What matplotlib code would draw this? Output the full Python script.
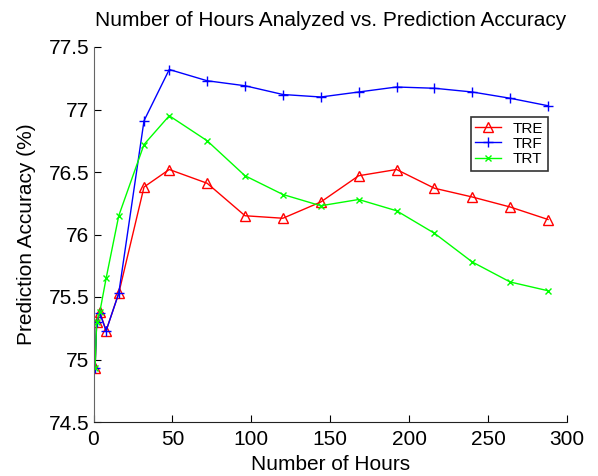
import numpy as np
import matplotlib
matplotlib.use("Agg")
import matplotlib.pyplot as plt

plt.rcParams['font.family'] = ['Liberation Sans', 'DejaVu Sans']

# hours analyzed
hours = [1, 2, 4, 8, 16, 32, 48, 72, 96, 120, 144, 168, 192, 216, 240, 264, 288]

# prediction accuracy (%)
tre = [74.93, 75.30, 75.38, 75.23, 75.53, 76.38, 76.52, 76.41, 76.15, 76.13,
       76.26, 76.47, 76.52, 76.37, 76.30, 76.22, 76.12]
trf = [74.93, 75.30, 75.37, 75.23, 75.53, 76.91, 77.32, 77.23, 77.19, 77.12,
       77.10, 77.14, 77.18, 77.17, 77.14, 77.09, 77.03]
trt = [74.93, 75.30, 75.38, 75.65, 76.15, 76.72, 76.95, 76.75, 76.47, 76.32,
       76.23, 76.28, 76.19, 76.01, 75.78, 75.62, 75.55]

xticks = [0, 50, 100, 150, 200, 250, 300]
yticks = [74.5, 75, 75.5, 76, 76.5, 77, 77.5]
ytick_labels = ['74.5', '75', '75.5', '76', '76.5', '77', '77.5']

fig = plt.figure(figsize=(5.98, 4.76), dpi=100)
ax = fig.add_axes([93.5 / 598, 1 - 422 / 476, (567 - 93.5) / 598, (422 - 47) / 476])

ax.plot(hours, tre, color='#ff0000', marker='^', markersize=7, markerfacecolor='none',
        markeredgewidth=1, linewidth=1, label='TRE')
ax.plot(hours, trf, color='#0000ff', marker='+', markersize=7, markeredgewidth=1,
        linewidth=1, label='TRF')
ax.plot(hours, trt, color='#00ff00', marker='x', markersize=4, markeredgewidth=1,
        linewidth=1, label='TRT')

ax.set_xlim(0, 300)
ax.set_ylim(74.5, 77.5)
ax.set_xticks(xticks)
ax.set_yticks(yticks)
ax.set_yticklabels(ytick_labels)
ax.tick_params(direction='in', length=5, labelsize=15, width=0.8)
ax.tick_params(axis='x', pad=6)
ax.tick_params(axis='y', pad=3)

ax.spines['top'].set_visible(False)
ax.spines['right'].set_visible(False)
ax.spines['left'].set_color('#666666')
ax.spines['bottom'].set_color('#222222')

ax.set_title('Number of Hours Analyzed vs. Prediction Accuracy', fontsize=15, pad=15)
ax.set_xlabel('Number of Hours', fontsize=15, labelpad=4)
ax.set_ylabel('Prediction Accuracy (%)', fontsize=15, labelpad=9)

leg = ax.legend(loc='upper left', bbox_to_anchor=((470.5 - 93.5) / 473.5, (422 - 117) / 375),
                fontsize=11, frameon=True, fancybox=False, handlelength=1.7,
                borderpad=0.3, labelspacing=0.08, handletextpad=0.75,
                borderaxespad=0)
leg.get_frame().set_edgecolor('black')
leg.get_frame().set_linewidth(1.2)

fig.savefig('out.png', dpi=100)
